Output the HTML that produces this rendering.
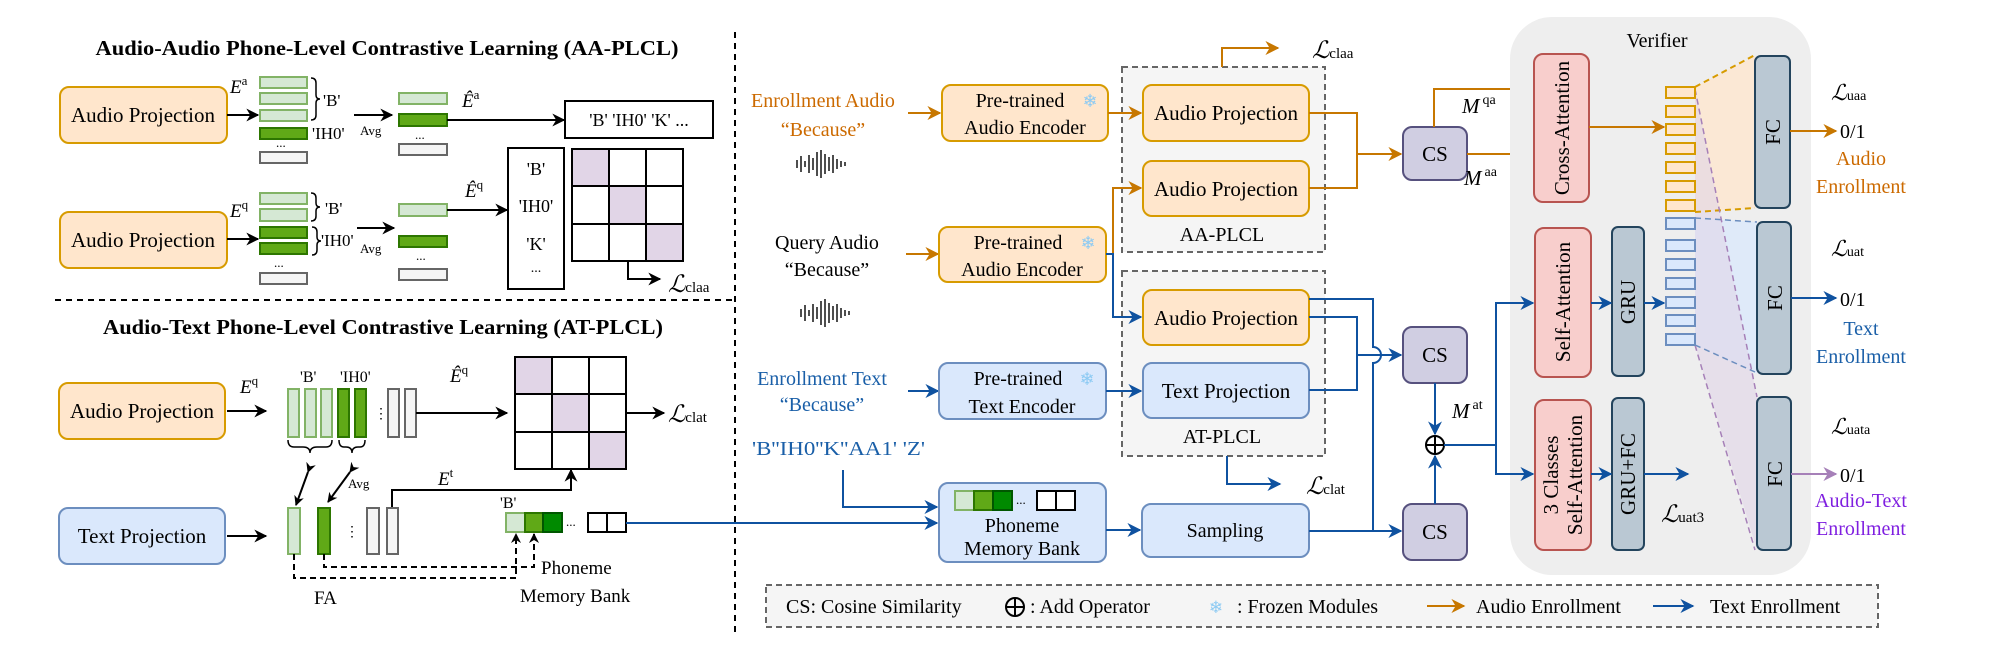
<!DOCTYPE html>
<html><head><meta charset="utf-8"><style>
html,body{margin:0;padding:0;background:#fff;}
svg{display:block;font-family:"Liberation Serif","Times New Roman",serif;}
text{font-family:"Liberation Serif","Times New Roman",serif;fill:#000;}
</style></head><body>
<svg width="1993" height="647" viewBox="0 0 1993 647" xmlns="http://www.w3.org/2000/svg" font-family="Liberation Serif, Times New Roman, serif">
<defs>
<marker id="ak" viewBox="0 0 10 10" refX="9" refY="5" markerWidth="13" markerHeight="13" markerUnits="userSpaceOnUse" orient="auto-start-reverse"><path d="M0,0 L10,5 L0,10 L3,5 z" fill="#000"/></marker>
<marker id="ao" viewBox="0 0 10 10" refX="9" refY="5" markerWidth="14" markerHeight="14" markerUnits="userSpaceOnUse" orient="auto"><path d="M0,0 L10,5 L0,10 L3,5 z" fill="#c77700"/></marker>
<marker id="ab" viewBox="0 0 10 10" refX="9" refY="5" markerWidth="14" markerHeight="14" markerUnits="userSpaceOnUse" orient="auto"><path d="M0,0 L10,5 L0,10 L3,5 z" fill="#0f52a0"/></marker>
<marker id="ap" viewBox="0 0 10 10" refX="9" refY="5" markerWidth="14" markerHeight="14" markerUnits="userSpaceOnUse" orient="auto"><path d="M0,0 L10,5 L0,10 L3,5 z" fill="#a680b8"/></marker>
<marker id="akd" viewBox="0 0 10 10" refX="9" refY="5" markerWidth="10" markerHeight="10" markerUnits="userSpaceOnUse" orient="auto"><path d="M0,0 L10,5 L0,10 L3,5 z" fill="#000"/></marker>
</defs>

<!-- ============ LEFT TOP ============ -->
<text x="387" y="55" text-anchor="middle" font-weight="bold" font-size="21" textLength="583" lengthAdjust="spacingAndGlyphs">Audio-Audio Phone-Level  Contrastive Learning (AA-PLCL)</text>
<rect x="60" y="87" width="167" height="56" rx="9" fill="#ffe6cc" stroke="#d79b00" stroke-width="2"/>
<text x="143" y="122" text-anchor="middle" font-size="21">Audio Projection</text>
<line x1="227" y1="115" x2="258" y2="115" stroke="#000" stroke-width="2" marker-end="url(#ak)"/>
<text x="230" y="93" font-size="19" font-style="italic">E<tspan font-size="13" font-style="normal" dy="-8">a</tspan></text>
<g stroke-width="2">
<rect x="260" y="77" width="47" height="11" fill="#d5e8d4" stroke="#82b366"/>
<rect x="260" y="93" width="47" height="11" fill="#d5e8d4" stroke="#82b366"/>
<rect x="260" y="110" width="47" height="11" fill="#d5e8d4" stroke="#82b366"/>
<rect x="260" y="128" width="47" height="11" fill="#60a917" stroke="#2d7600"/>
<rect x="260" y="152" width="47" height="11" fill="#f5f5f5" stroke="#666"/>
</g>
<text x="276" y="147" font-size="13">...</text>
<path d="M311,78 q5,0 5,5 v12 q0,4 4,4 q-4,0 -4,4 v12 q0,5 -5,5" fill="none" stroke="#000" stroke-width="1.5"/>
<text x="323" y="106" font-size="17">'B'</text>
<text x="312" y="139" font-size="17">'IH0'</text>
<line x1="354" y1="115" x2="392" y2="115" stroke="#000" stroke-width="2" marker-end="url(#ak)"/>
<text x="360" y="135" font-size="13">Avg</text>
<g stroke-width="2">
<rect x="399" y="93" width="48" height="11" fill="#d5e8d4" stroke="#82b366"/>
<rect x="399" y="114" width="48" height="12" fill="#60a917" stroke="#2d7600"/>
<rect x="399" y="144" width="48" height="11" fill="#f5f5f5" stroke="#666"/>
</g>
<text x="415" y="139" font-size="13">...</text>
<text x="462" y="107" font-size="19" font-style="italic">Ê<tspan font-size="13" font-style="normal" dy="-8">a</tspan></text>
<line x1="447" y1="120" x2="564" y2="120" stroke="#000" stroke-width="2" marker-end="url(#ak)"/>
<rect x="565" y="101" width="148" height="37" fill="#fff" stroke="#000" stroke-width="2"/>
<text x="639" y="126" text-anchor="middle" font-size="18">'B' 'IH0' 'K' ...</text>

<rect x="60" y="212" width="167" height="56" rx="9" fill="#ffe6cc" stroke="#d79b00" stroke-width="2"/>
<text x="143" y="247" text-anchor="middle" font-size="21">Audio Projection</text>
<line x1="227" y1="239" x2="258" y2="239" stroke="#000" stroke-width="2" marker-end="url(#ak)"/>
<text x="230" y="217" font-size="19" font-style="italic">E<tspan font-size="13" font-style="normal" dy="-8">q</tspan></text>
<g stroke-width="2">
<rect x="260" y="193" width="47" height="11" fill="#d5e8d4" stroke="#82b366"/>
<rect x="260" y="209" width="47" height="12" fill="#d5e8d4" stroke="#82b366"/>
<rect x="260" y="227" width="47" height="11" fill="#60a917" stroke="#2d7600"/>
<rect x="260" y="243" width="47" height="11" fill="#60a917" stroke="#2d7600"/>
<rect x="260" y="273" width="47" height="11" fill="#f5f5f5" stroke="#666"/>
</g>
<text x="274" y="267" font-size="13">...</text>
<path d="M311,193 q5,0 5,5 v5 q0,4 4,4 q-4,0 -4,4 v5 q0,5 -5,5" fill="none" stroke="#000" stroke-width="1.5"/>
<text x="325" y="214" font-size="17">'B'</text>
<path d="M312,227 q5,0 5,5 v5 q0,4 4,4 q-4,0 -4,4 v5 q0,5 -5,5" fill="none" stroke="#000" stroke-width="1.5"/>
<text x="321" y="246" font-size="17">'IH0'</text>
<line x1="357" y1="228" x2="394" y2="228" stroke="#000" stroke-width="2" marker-end="url(#ak)"/>
<text x="360" y="253" font-size="13">Avg</text>
<g stroke-width="2">
<rect x="399" y="204" width="48" height="12" fill="#d5e8d4" stroke="#82b366"/>
<rect x="399" y="236" width="48" height="11" fill="#60a917" stroke="#2d7600"/>
<rect x="399" y="269" width="48" height="11" fill="#f5f5f5" stroke="#666"/>
</g>
<text x="416" y="260" font-size="13">...</text>
<text x="465" y="197" font-size="19" font-style="italic">Ê<tspan font-size="13" font-style="normal" dy="-8">q</tspan></text>
<line x1="447" y1="210" x2="507" y2="210" stroke="#000" stroke-width="2" marker-end="url(#ak)"/>
<rect x="508" y="148" width="56" height="141" fill="#fff" stroke="#000" stroke-width="2"/>
<text x="536" y="175" text-anchor="middle" font-size="18">'B'</text>
<text x="536" y="212" text-anchor="middle" font-size="18">'IH0'</text>
<text x="536" y="250" text-anchor="middle" font-size="18">'K'</text>
<text x="536" y="272" text-anchor="middle" font-size="14">...</text>
<g stroke="#000" stroke-width="2">
<rect x="572" y="149" width="111" height="112" fill="#fff"/>
<rect x="572" y="149" width="37" height="37" fill="#e1d5e7"/>
<rect x="609" y="186" width="37" height="38" fill="#e1d5e7"/>
<rect x="646" y="224" width="37" height="37" fill="#e1d5e7"/>
<line x1="609" y1="149" x2="609" y2="261"/><line x1="646" y1="149" x2="646" y2="261"/>
<line x1="572" y1="186" x2="683" y2="186"/><line x1="572" y1="224" x2="683" y2="224"/>
</g>
<path d="M628,261 V279 H660" fill="none" stroke="#000" stroke-width="2" marker-end="url(#ak)"/>
<text x="668" y="292" font-size="24" font-style="italic">ℒ<tspan font-size="15" font-style="normal">claa</tspan></text>

<line x1="55" y1="300" x2="733" y2="300" stroke="#000" stroke-width="2" stroke-dasharray="6,5"/>

<!-- ============ LEFT BOTTOM ============ -->
<text x="383" y="334" text-anchor="middle" font-weight="bold" font-size="21" textLength="560" lengthAdjust="spacingAndGlyphs">Audio-Text Phone-Level  Contrastive Learning (AT-PLCL)</text>
<rect x="59" y="383" width="166" height="56" rx="9" fill="#ffe6cc" stroke="#d79b00" stroke-width="2"/>
<text x="142" y="418" text-anchor="middle" font-size="21">Audio Projection</text>
<line x1="227" y1="411" x2="266" y2="411" stroke="#000" stroke-width="2" marker-end="url(#ak)"/>
<text x="240" y="393" font-size="19" font-style="italic">E<tspan font-size="13" font-style="normal" dy="-8">q</tspan></text>
<text x="300" y="382" font-size="16">'B'</text>
<text x="340" y="382" font-size="16">'IH0'</text>
<g stroke-width="2">
<rect x="288" y="389" width="11" height="48" fill="#d5e8d4" stroke="#82b366"/>
<rect x="305" y="389" width="11" height="48" fill="#d5e8d4" stroke="#82b366"/>
<rect x="321" y="389" width="11" height="48" fill="#d5e8d4" stroke="#82b366"/>
<rect x="338" y="389" width="11" height="48" fill="#60a917" stroke="#2d7600"/>
<rect x="355" y="389" width="11" height="48" fill="#60a917" stroke="#2d7600"/>
<rect x="388" y="389" width="11" height="48" fill="#f5f5f5" stroke="#666"/>
<rect x="405" y="389" width="11" height="48" fill="#f5f5f5" stroke="#666"/>
</g>
<text x="374" y="418" font-size="14">⋮</text>
<path d="M288,440 q0,7 6,7 h9 q7,0 7,6 q0,-6 7,-6 h9 q6,0 6,-7" fill="none" stroke="#000" stroke-width="1.5"/>
<path d="M339,440 q0,7 5,7 h2 q6,0 6,6 q0,-6 6,-6 h2 q5,0 5,-7" fill="none" stroke="#000" stroke-width="1.5"/>
<text x="450" y="382" font-size="19" font-style="italic">Ê<tspan font-size="13" font-style="normal" dy="-8">q</tspan></text>
<line x1="416" y1="413" x2="507" y2="413" stroke="#000" stroke-width="2" marker-end="url(#ak)"/>
<g stroke="#000" stroke-width="2">
<rect x="515" y="357" width="111" height="112" fill="#fff"/>
<rect x="515" y="357" width="37" height="37" fill="#e1d5e7"/>
<rect x="552" y="394" width="37" height="38" fill="#e1d5e7"/>
<rect x="589" y="432" width="37" height="37" fill="#e1d5e7"/>
<line x1="552" y1="357" x2="552" y2="469"/><line x1="589" y1="357" x2="589" y2="469"/>
<line x1="515" y1="394" x2="626" y2="394"/><line x1="515" y1="432" x2="626" y2="432"/>
</g>
<line x1="626" y1="413" x2="664" y2="413" stroke="#000" stroke-width="2" marker-end="url(#ak)"/>
<text x="668" y="422" font-size="24" font-style="italic">ℒ<tspan font-size="15" font-style="normal">clat</tspan></text>
<line x1="308" y1="472" x2="296" y2="505" stroke="#000" stroke-width="2" marker-start="url(#akd)" marker-end="url(#akd)"/>
<line x1="350" y1="472" x2="328" y2="502" stroke="#000" stroke-width="2" marker-start="url(#akd)" marker-end="url(#akd)"/>
<text x="348" y="488" font-size="13">Avg</text>
<text x="438" y="485" font-size="19" font-style="italic">E<tspan font-size="13" font-style="normal" dy="-8">t</tspan></text>
<path d="M392,508 V490 H571 V470" fill="none" stroke="#000" stroke-width="2" marker-end="url(#ak)"/>

<rect x="59" y="508" width="166" height="56" rx="9" fill="#dae8fc" stroke="#6c8ebf" stroke-width="2"/>
<text x="142" y="543" text-anchor="middle" font-size="21">Text Projection</text>
<line x1="227" y1="536" x2="266" y2="536" stroke="#000" stroke-width="2" marker-end="url(#ak)"/>
<g stroke-width="2">
<rect x="288" y="508" width="12" height="46" fill="#d5e8d4" stroke="#82b366"/>
<rect x="318" y="508" width="12" height="46" fill="#60a917" stroke="#2d7600"/>
<rect x="367" y="508" width="12" height="46" fill="#f5f5f5" stroke="#666"/>
<rect x="387" y="508" width="11" height="46" fill="#f5f5f5" stroke="#666"/>
</g>
<text x="345" y="536" font-size="14">⋮</text>
<path d="M294,554 V578 H516 V534" fill="none" stroke="#000" stroke-width="2" stroke-dasharray="6,4" marker-end="url(#akd)"/>
<path d="M324,554 V567 H534 V534" fill="none" stroke="#000" stroke-width="2" stroke-dasharray="6,4" marker-end="url(#akd)"/>
<text x="500" y="508" font-size="16">'B'</text>
<g stroke-width="2">
<rect x="506" y="513" width="19" height="19" fill="#d5e8d4" stroke="#82b366"/>
<rect x="525" y="513" width="18" height="19" fill="#60a917" stroke="#2d7600"/>
<rect x="543" y="513" width="19" height="19" fill="#008a00" stroke="#005700"/>
<rect x="588" y="513" width="19" height="19" fill="#fff" stroke="#000"/>
<rect x="607" y="513" width="19" height="19" fill="#fff" stroke="#000"/>
</g>
<text x="566" y="526" font-size="13">...</text>
<text x="541" y="574" font-size="19">Phoneme</text>
<text x="520" y="602" font-size="19">Memory Bank</text>
<text x="314" y="604" font-size="19">FA</text>
<line x1="626" y1="523" x2="937" y2="523" stroke="#0f52a0" stroke-width="2" marker-end="url(#ab)"/>

<line x1="735" y1="32" x2="735" y2="632" stroke="#000" stroke-width="2" stroke-dasharray="6,5"/>

<!-- ============ MIDDLE ============ -->
<text x="823" y="107" text-anchor="middle" font-size="20" style="fill:#cc6a00">Enrollment Audio</text>
<text x="823" y="136" text-anchor="middle" font-size="20" style="fill:#cc6a00">“Because”</text>
<g stroke="#222" stroke-width="1.6">
<line x1="797" y1="160" x2="797" y2="168"/><line x1="801" y1="156" x2="801" y2="172"/><line x1="805" y1="161" x2="805" y2="167"/><line x1="809" y1="155" x2="809" y2="173"/><line x1="813" y1="158" x2="813" y2="170"/><line x1="817" y1="152" x2="817" y2="176"/><line x1="821" y1="150" x2="821" y2="178"/><line x1="825" y1="154" x2="825" y2="174"/><line x1="829" y1="157" x2="829" y2="171"/><line x1="833" y1="155" x2="833" y2="173"/><line x1="837" y1="159" x2="837" y2="169"/><line x1="841" y1="161" x2="841" y2="167"/><line x1="845" y1="162" x2="845" y2="166"/>
</g>
<text x="827" y="249" text-anchor="middle" font-size="20">Query Audio</text>
<text x="827" y="276" text-anchor="middle" font-size="20">“Because”</text>
<g stroke="#222" stroke-width="1.6">
<line x1="801" y1="309" x2="801" y2="317"/><line x1="805" y1="305" x2="805" y2="321"/><line x1="809" y1="310" x2="809" y2="316"/><line x1="813" y1="304" x2="813" y2="322"/><line x1="817" y1="307" x2="817" y2="319"/><line x1="821" y1="301" x2="821" y2="325"/><line x1="825" y1="299" x2="825" y2="327"/><line x1="829" y1="303" x2="829" y2="323"/><line x1="833" y1="306" x2="833" y2="320"/><line x1="837" y1="304" x2="837" y2="322"/><line x1="841" y1="308" x2="841" y2="318"/><line x1="845" y1="310" x2="845" y2="316"/><line x1="849" y1="311" x2="849" y2="315"/>
</g>
<text x="822" y="385" text-anchor="middle" font-size="20" style="fill:#1a5fa8">Enrollment Text</text>
<text x="822" y="411" text-anchor="middle" font-size="20" style="fill:#1a5fa8">“Because”</text>
<text x="752" y="455" font-size="20" style="fill:#1a5fa8" textLength="173" lengthAdjust="spacingAndGlyphs">'B''IH0''K''AA1' 'Z'</text>

<line x1="908" y1="113" x2="940" y2="113" stroke="#c77700" stroke-width="2" marker-end="url(#ao)"/>
<rect x="942" y="85" width="166" height="56" rx="9" fill="#ffe6cc" stroke="#d79b00" stroke-width="2"/>
<text x="1020" y="107" text-anchor="middle" font-size="20">Pre-trained</text>
<text x="1090" y="107" text-anchor="middle" font-size="18" style="fill:#8ccaf3;font-family:'DejaVu Sans',sans-serif">❄</text>
<text x="1025" y="134" text-anchor="middle" font-size="20">Audio Encoder</text>

<line x1="906" y1="254" x2="938" y2="254" stroke="#c77700" stroke-width="2" marker-end="url(#ao)"/>
<rect x="939" y="227" width="167" height="55" rx="9" fill="#ffe6cc" stroke="#d79b00" stroke-width="2"/>
<text x="1018" y="249" text-anchor="middle" font-size="20">Pre-trained</text>
<text x="1088" y="249" text-anchor="middle" font-size="18" style="fill:#8ccaf3;font-family:'DejaVu Sans',sans-serif">❄</text>
<text x="1022" y="276" text-anchor="middle" font-size="20">Audio Encoder</text>

<line x1="908" y1="391" x2="938" y2="391" stroke="#0f52a0" stroke-width="2" marker-end="url(#ab)"/>
<rect x="939" y="363" width="167" height="56" rx="9" fill="#dae8fc" stroke="#6c8ebf" stroke-width="2"/>
<text x="1018" y="385" text-anchor="middle" font-size="20">Pre-trained</text>
<text x="1087" y="385" text-anchor="middle" font-size="18" style="fill:#8ccaf3;font-family:'DejaVu Sans',sans-serif">❄</text>
<text x="1022" y="413" text-anchor="middle" font-size="20">Text Encoder</text>

<path d="M843,470 V507 H937" fill="none" stroke="#0f52a0" stroke-width="2" marker-end="url(#ab)"/>
<rect x="939" y="483" width="167" height="79" rx="9" fill="#dae8fc" stroke="#6c8ebf" stroke-width="2"/>
<g stroke-width="2">
<rect x="955" y="491" width="19" height="19" fill="#d5e8d4" stroke="#82b366"/>
<rect x="974" y="491" width="19" height="19" fill="#60a917" stroke="#2d7600"/>
<rect x="993" y="491" width="19" height="19" fill="#008a00" stroke="#005700"/>
<rect x="1037" y="491" width="19" height="19" fill="#fff" stroke="#000"/>
<rect x="1056" y="491" width="19" height="19" fill="#fff" stroke="#000"/>
</g>
<text x="1016" y="504" font-size="13">...</text>
<text x="1022" y="532" text-anchor="middle" font-size="20">Phoneme</text>
<text x="1022" y="555" text-anchor="middle" font-size="20">Memory Bank</text>
<line x1="1106" y1="530" x2="1140" y2="530" stroke="#0f52a0" stroke-width="2" marker-end="url(#ab)"/>
<rect x="1142" y="504" width="167" height="53" rx="9" fill="#dae8fc" stroke="#6c8ebf" stroke-width="2"/>
<text x="1225" y="537" text-anchor="middle" font-size="20">Sampling</text>

<!-- AA-PLCL -->
<rect x="1122" y="67" width="203" height="185" fill="#f5f5f5" stroke="#666" stroke-width="2" stroke-dasharray="6,4"/>
<path d="M1222,67 V48 H1278" fill="none" stroke="#c77700" stroke-width="2" marker-end="url(#ao)"/>
<text x="1312" y="58" font-size="24" font-style="italic">ℒ<tspan font-size="15" font-style="normal">claa</tspan></text>
<line x1="1108" y1="113" x2="1141" y2="113" stroke="#c77700" stroke-width="2" marker-end="url(#ao)"/>
<rect x="1143" y="85" width="166" height="56" rx="9" fill="#ffe6cc" stroke="#d79b00" stroke-width="2"/>
<text x="1226" y="120" text-anchor="middle" font-size="21">Audio Projection</text>
<path d="M1106,254 H1113 V188 H1141" fill="none" stroke="#c77700" stroke-width="2" marker-end="url(#ao)"/>
<rect x="1143" y="161" width="166" height="55" rx="9" fill="#ffe6cc" stroke="#d79b00" stroke-width="2"/>
<text x="1226" y="196" text-anchor="middle" font-size="21">Audio Projection</text>
<text x="1222" y="241" text-anchor="middle" font-size="20">AA-PLCL</text>

<!-- AT-PLCL -->
<rect x="1122" y="271" width="203" height="185" fill="#f5f5f5" stroke="#666" stroke-width="2" stroke-dasharray="6,4"/>
<path d="M1106,254 H1113 V317 H1141" fill="none" stroke="#0f52a0" stroke-width="2" marker-end="url(#ab)"/>
<rect x="1143" y="290" width="166" height="55" rx="9" fill="#ffe6cc" stroke="#d79b00" stroke-width="2"/>
<text x="1226" y="325" text-anchor="middle" font-size="21">Audio Projection</text>
<line x1="1106" y1="391" x2="1141" y2="391" stroke="#0f52a0" stroke-width="2" marker-end="url(#ab)"/>
<rect x="1143" y="363" width="166" height="55" rx="9" fill="#dae8fc" stroke="#6c8ebf" stroke-width="2"/>
<text x="1226" y="398" text-anchor="middle" font-size="21">Text Projection</text>
<text x="1222" y="443" text-anchor="middle" font-size="20">AT-PLCL</text>
<path d="M1227,456 V484 H1280" fill="none" stroke="#0f52a0" stroke-width="2" marker-end="url(#ab)"/>
<text x="1306" y="494" font-size="24" font-style="italic">ℒ<tspan font-size="15" font-style="normal">clat</tspan></text>

<!-- AA connections -->
<path d="M1309,113 H1357 V188 H1309" fill="none" stroke="#c77700" stroke-width="2"/>
<line x1="1357" y1="154" x2="1401" y2="154" stroke="#c77700" stroke-width="2" marker-end="url(#ao)"/>
<rect x="1403" y="127" width="64" height="53" rx="9" fill="#d0cee2" stroke="#56517e" stroke-width="2"/>
<text x="1435" y="161" text-anchor="middle" font-size="21">CS</text>
<path d="M1434,127 V89 H1531" fill="none" stroke="#c77700" stroke-width="2" marker-end="url(#ao)"/>
<line x1="1467" y1="154" x2="1531" y2="154" stroke="#c77700" stroke-width="2" marker-end="url(#ao)"/>
<text x="1462" y="113" font-size="21" font-style="italic">M<tspan font-size="14" font-style="normal" dy="-9" dx="3">qa</tspan></text>
<text x="1464" y="185" font-size="21" font-style="italic">M<tspan font-size="14" font-style="normal" dy="-9" dx="3">aa</tspan></text>

<!-- AT connections -->
<path d="M1309,299 H1373 V347 A8,8 0 0 1 1373,363 V531" fill="none" stroke="#0f52a0" stroke-width="2"/>
<path d="M1309,317 H1357 V390 H1309" fill="none" stroke="#0f52a0" stroke-width="2"/>
<line x1="1357" y1="355" x2="1401" y2="355" stroke="#0f52a0" stroke-width="2" marker-end="url(#ab)"/>
<line x1="1309" y1="531" x2="1401" y2="531" stroke="#0f52a0" stroke-width="2" marker-end="url(#ab)"/>

<!-- Verifier -->
<rect x="1510" y="17" width="301" height="558" rx="42" fill="#eeeeee"/>
<text x="1657" y="47" text-anchor="middle" font-size="20">Verifier</text>

<rect x="1403" y="327" width="64" height="56" rx="9" fill="#d0cee2" stroke="#56517e" stroke-width="2"/>
<text x="1435" y="362" text-anchor="middle" font-size="21">CS</text>
<rect x="1403" y="504" width="64" height="56" rx="9" fill="#d0cee2" stroke="#56517e" stroke-width="2"/>
<text x="1435" y="539" text-anchor="middle" font-size="21">CS</text>
<line x1="1435" y1="383" x2="1435" y2="434" stroke="#0f52a0" stroke-width="2" marker-end="url(#ab)"/>
<line x1="1435" y1="504" x2="1435" y2="456" stroke="#0f52a0" stroke-width="2" marker-end="url(#ab)"/>
<circle cx="1435" cy="445" r="9" fill="#fff" stroke="#000" stroke-width="2"/>
<path d="M1426,445 H1444 M1435,436 V454" stroke="#000" stroke-width="2"/>
<text x="1452" y="418" font-size="21" font-style="italic">M<tspan font-size="14" font-style="normal" dy="-9" dx="3">at</tspan></text>
<line x1="1444" y1="445" x2="1496" y2="445" stroke="#0f52a0" stroke-width="2"/>
<path d="M1496,445 V303 H1533" fill="none" stroke="#0f52a0" stroke-width="2" marker-end="url(#ab)"/>
<path d="M1496,445 V474 H1533" fill="none" stroke="#0f52a0" stroke-width="2" marker-end="url(#ab)"/>

<!-- shaded trapezoids -->
<polygon points="1695,87 1755,56 1755,208 1695,212" fill="#ffe6cc" opacity="0.75"/>
<polygon points="1695,218 1757,222 1757,374 1695,345" fill="#dae8fc" opacity="0.75"/>
<polygon points="1695,89 1757,397 1757,550 1695,345" fill="#e1d5e7" opacity="0.6"/>
<line x1="1695" y1="87" x2="1755" y2="55" stroke="#d79b00" stroke-width="2" stroke-dasharray="6,4"/>
<line x1="1695" y1="212" x2="1755" y2="208" stroke="#d79b00" stroke-width="2" stroke-dasharray="6,4"/>
<line x1="1695" y1="218" x2="1757" y2="222" stroke="#6c8ebf" stroke-width="1.5" stroke-dasharray="6,4"/>
<line x1="1695" y1="345" x2="1755" y2="372" stroke="#6c8ebf" stroke-width="1.5" stroke-dasharray="6,4"/>
<line x1="1695" y1="89" x2="1757" y2="397" stroke="#a680b8" stroke-width="1.5" stroke-dasharray="6,4"/>
<line x1="1695" y1="345" x2="1755" y2="550" stroke="#a680b8" stroke-width="1.5" stroke-dasharray="6,4"/>

<rect x="1534" y="54" width="55" height="148" rx="9" fill="#f8cecc" stroke="#b85450" stroke-width="2"/>
<text transform="translate(1569,128) rotate(-90)" text-anchor="middle" font-size="21">Cross-Attention</text>
<rect x="1535" y="228" width="56" height="149" rx="9" fill="#f8cecc" stroke="#b85450" stroke-width="2"/>
<text transform="translate(1570,302) rotate(-90)" text-anchor="middle" font-size="21">Self-Attention</text>
<rect x="1535" y="400" width="56" height="150" rx="9" fill="#f8cecc" stroke="#b85450" stroke-width="2"/>
<text transform="translate(1558,475) rotate(-90)" text-anchor="middle" font-size="21">3 Classes</text>
<text transform="translate(1582,475) rotate(-90)" text-anchor="middle" font-size="21">Self-Attention</text>
<rect x="1612" y="227" width="32" height="149" rx="6" fill="#bac8d3" stroke="#23445d" stroke-width="2"/>
<text transform="translate(1635,302) rotate(-90)" text-anchor="middle" font-size="21">GRU</text>
<rect x="1612" y="398" width="32" height="152" rx="6" fill="#bac8d3" stroke="#23445d" stroke-width="2"/>
<text transform="translate(1635,474) rotate(-90)" text-anchor="middle" font-size="21">GRU+FC</text>

<line x1="1589" y1="127" x2="1664" y2="127" stroke="#c77700" stroke-width="2" marker-end="url(#ao)"/>
<line x1="1591" y1="303" x2="1611" y2="303" stroke="#0f52a0" stroke-width="2" marker-end="url(#ab)"/>
<line x1="1644" y1="303" x2="1664" y2="303" stroke="#0f52a0" stroke-width="2" marker-end="url(#ab)"/>
<line x1="1591" y1="474" x2="1611" y2="474" stroke="#0f52a0" stroke-width="2" marker-end="url(#ab)"/>
<line x1="1644" y1="474" x2="1688" y2="474" stroke="#0f52a0" stroke-width="2" marker-end="url(#ab)"/>
<text x="1661" y="522" font-size="24" font-style="italic">ℒ<tspan font-size="15" font-style="normal">uat3</tspan></text>

<g stroke-width="2" fill="#ffe6cc" stroke="#d79b00">
<rect x="1666" y="87" width="29" height="11"/><rect x="1666" y="106" width="29" height="11"/><rect x="1666" y="124" width="29" height="11"/><rect x="1666" y="143" width="29" height="11"/><rect x="1666" y="162" width="29" height="11"/><rect x="1666" y="181" width="29" height="11"/><rect x="1666" y="200" width="29" height="11"/>
</g>
<g stroke-width="2" fill="#dae8fc" stroke="#6c8ebf">
<rect x="1666" y="218" width="29" height="11"/><rect x="1666" y="240" width="29" height="11"/><rect x="1666" y="259" width="29" height="11"/><rect x="1666" y="278" width="29" height="11"/><rect x="1666" y="297" width="29" height="11"/><rect x="1666" y="315" width="29" height="11"/><rect x="1666" y="334" width="29" height="11"/>
</g>

<rect x="1755" y="56" width="35" height="152" rx="6" fill="#bac8d3" stroke="#23445d" stroke-width="2"/>
<text transform="translate(1780,132) rotate(-90)" text-anchor="middle" font-size="21">FC</text>
<rect x="1757" y="222" width="34" height="152" rx="6" fill="#bac8d3" stroke="#23445d" stroke-width="2"/>
<text transform="translate(1782,298) rotate(-90)" text-anchor="middle" font-size="21">FC</text>
<rect x="1757" y="397" width="34" height="153" rx="6" fill="#bac8d3" stroke="#23445d" stroke-width="2"/>
<text transform="translate(1782,474) rotate(-90)" text-anchor="middle" font-size="21">FC</text>

<line x1="1790" y1="131" x2="1836" y2="131" stroke="#c77700" stroke-width="2" marker-end="url(#ao)"/>
<line x1="1791" y1="298" x2="1836" y2="298" stroke="#0f52a0" stroke-width="2" marker-end="url(#ab)"/>
<line x1="1791" y1="474" x2="1836" y2="474" stroke="#a680b8" stroke-width="2" marker-end="url(#ap)"/>
<text x="1831" y="100" font-size="22" font-style="italic">ℒ<tspan font-size="14" font-style="normal">uaa</tspan></text>
<text x="1831" y="256" font-size="22" font-style="italic">ℒ<tspan font-size="14" font-style="normal">uat</tspan></text>
<text x="1831" y="434" font-size="22" font-style="italic">ℒ<tspan font-size="14" font-style="normal">uata</tspan></text>
<text x="1840" y="138" font-size="20">0/1</text>
<text x="1840" y="306" font-size="20">0/1</text>
<text x="1840" y="482" font-size="20">0/1</text>
<text x="1861" y="165" text-anchor="middle" font-size="20" style="fill:#cc6a00">Audio</text>
<text x="1861" y="193" text-anchor="middle" font-size="20" style="fill:#cc6a00">Enrollment</text>
<text x="1861" y="335" text-anchor="middle" font-size="20" style="fill:#1a5fa8">Text</text>
<text x="1861" y="363" text-anchor="middle" font-size="20" style="fill:#1a5fa8">Enrollment</text>
<text x="1861" y="507" text-anchor="middle" font-size="20" style="fill:#7f1fe0">Audio-Text</text>
<text x="1861" y="535" text-anchor="middle" font-size="20" style="fill:#7f1fe0">Enrollment</text>

<!-- Legend -->
<rect x="766" y="585" width="1112" height="42" fill="#f5f5f5" stroke="#666" stroke-width="2" stroke-dasharray="6,4"/>
<text x="786" y="613" font-size="20">CS: Cosine Similarity</text>
<circle cx="1015" cy="607" r="9" fill="none" stroke="#000" stroke-width="2"/>
<path d="M1006,607 H1024 M1015,598 V616" stroke="#000" stroke-width="2"/>
<text x="1030" y="613" font-size="20">: Add Operator</text>
<text x="1216" y="613" text-anchor="middle" font-size="17" style="fill:#8ccaf3;font-family:'DejaVu Sans',sans-serif">❄</text>
<text x="1237" y="613" font-size="20">: Frozen Modules</text>
<line x1="1427" y1="606" x2="1464" y2="606" stroke="#c77700" stroke-width="2" marker-end="url(#ao)"/>
<text x="1476" y="613" font-size="20">Audio Enrollment</text>
<line x1="1653" y1="606" x2="1693" y2="606" stroke="#0f52a0" stroke-width="2" marker-end="url(#ab)"/>
<text x="1710" y="613" font-size="20">Text Enrollment</text>
</svg>
</body></html>
